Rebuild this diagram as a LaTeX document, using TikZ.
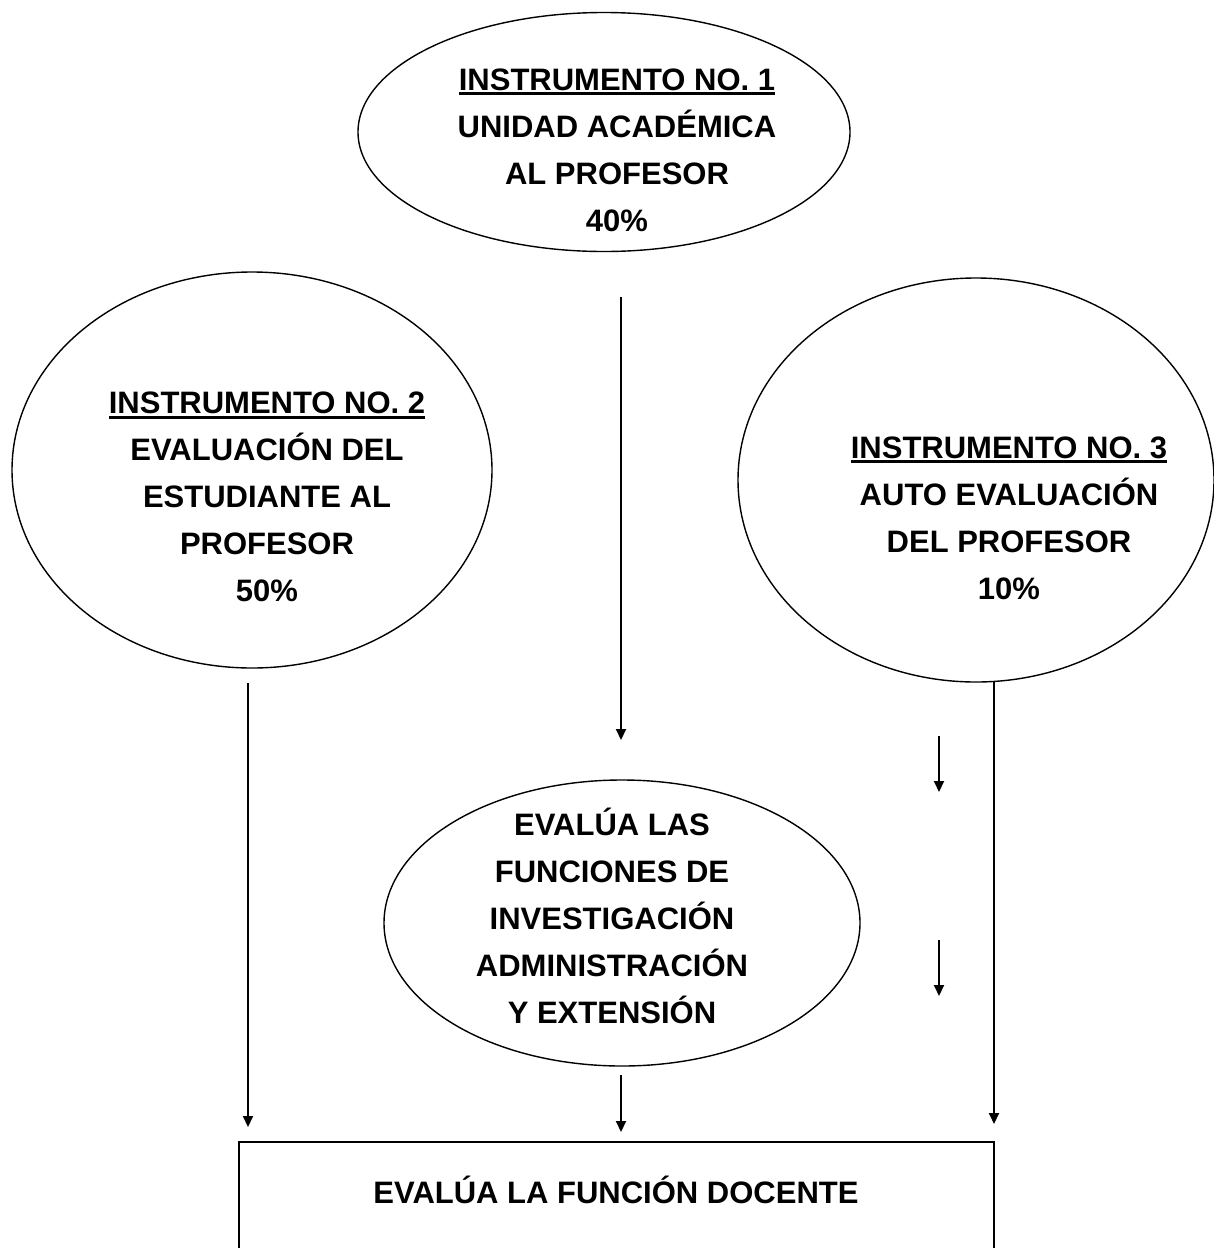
\documentclass[tikz,border=0pt]{standalone}
\usepackage{fontspec}
\setmainfont{Liberation Sans}
\usetikzlibrary{shapes.geometric,arrows.meta}
\newcommand\myul[1]{\setbox0\hbox{#1}\rlap{\rule[-5pt]{\wd0}{2.8pt}}\box0}
\begin{document}
\begin{tikzpicture}[x=1pt,y=-1pt,
  bub/.style={draw, ellipse, line width=1.4pt, inner sep=0pt, outer sep=0pt},
  txt/.style={font=\fontsize{31}{47}\selectfont\bfseries, align=center, inner sep=0pt},
  arr/.style={line width=1.9pt, -{Triangle[width=10pt,length=11pt]}},
  boxst/.style={draw, line width=1.9pt, inner sep=0pt, outer sep=0pt, anchor=north west}]
\useasboundingbox (0,0) rectangle (1214,1248);
\clip (0,0) rectangle (1214,1248);
\fill[white] (0,0) rectangle (1214,1248);

% ellipses
\node[bub, minimum width=492pt, minimum height=239pt] (e1) at (604,132) {};
\node[bub, minimum width=480pt, minimum height=396pt] (e2) at (252,470) {};
\node[bub, minimum width=476pt, minimum height=404pt] (e3) at (976,480) {};
\node[bub, minimum width=476pt, minimum height=286pt] (e4) at (622,923) {};

% texts
\node[txt] (t1) at (617,150) {\myul{INSTRUMENTO NO. 1}\\UNIDAD ACADÉMICA\\AL PROFESOR\\40\%};
\node[txt] (t2) at (267,497) {\myul{INSTRUMENTO NO. 2}\\EVALUACIÓN DEL\\ESTUDIANTE AL\\PROFESOR\\50\%};
\node[txt] (t3) at (1009,518) {\myul{INSTRUMENTO NO. 3}\\AUTO EVALUACIÓN\\DEL PROFESOR\\10\%};
\node[txt] (t4) at (612,916) {EVALÚA LAS\\FUNCIONES DE\\INVESTIGACIÓN\\ADMINISTRACIÓN\\Y EXTENSIÓN};

% box
\node[boxst, minimum width=755pt, minimum height=200pt] (bx) at (239,1142) {};
\node[txt] (bt) at (616,1190) {EVALÚA LA FUNCIÓN DOCENTE};

% connector end points
\coordinate (a1s) at (621,297);  \coordinate (a1e) at (621,740);
\coordinate (a2s) at (248,683);  \coordinate (a2e) at (248,1127);
\coordinate (a3s) at (994,682);  \coordinate (a3e) at (994,1124);
\coordinate (s1s) at (939,736);  \coordinate (s1e) at (939,792);
\coordinate (s2s) at (939,940);  \coordinate (s2e) at (939,996);
\coordinate (a4s) at (621,1075); \coordinate (a4e) at (621,1132);

\draw[arr] (a1s) -- (a1e);
\draw[arr] (a2s) -- (a2e);
\draw[arr] (a3s) -- (a3e);
\draw[arr] (s1s) -- (s1e);
\draw[arr] (s2s) -- (s2e);
\draw[arr] (a4s) -- (a4e);
\end{tikzpicture}
\end{document}
